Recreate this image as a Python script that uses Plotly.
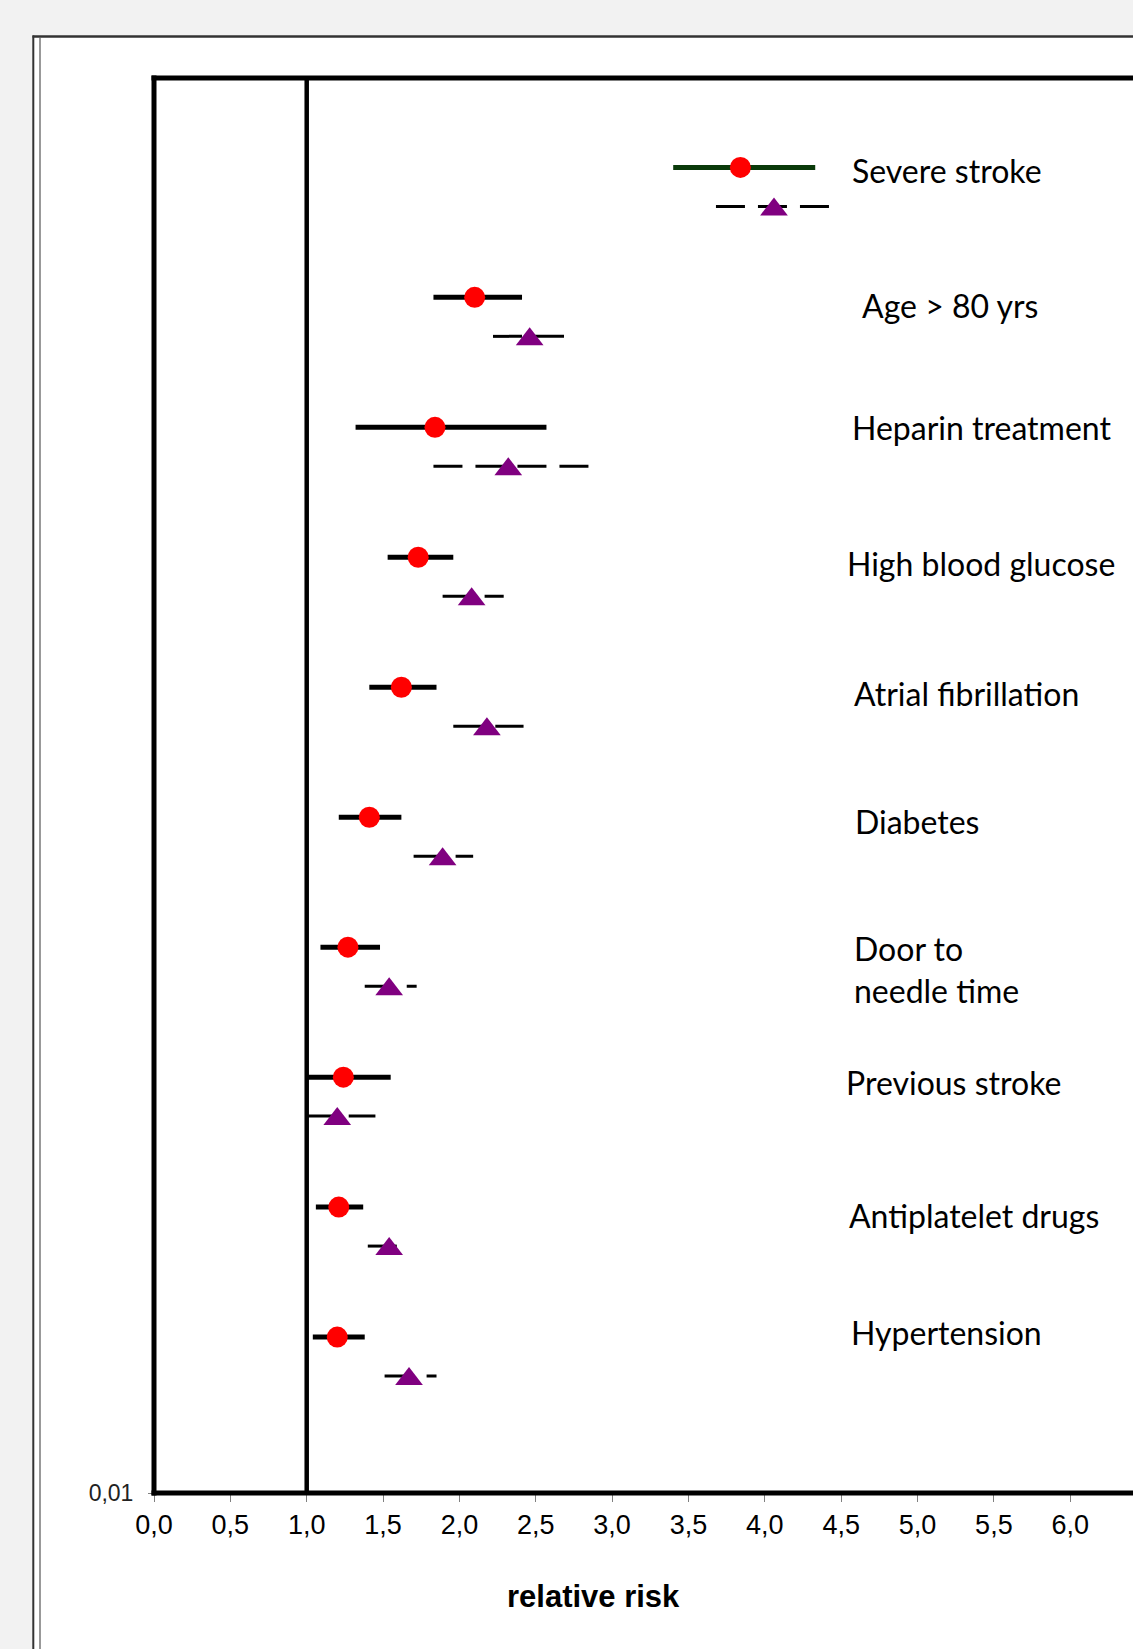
import plotly.graph_objects as go

# ---------------- data ----------------
categories = ["Severe stroke", "Age > 80 yrs", "Heparin treatment", "High blood glucose",
              "Atrial fibrillation", "Diabetes", "Door to<br>needle time", "Previous stroke",
              "Antiplatelet drugs", "Hypertension"]

# series 1 (red circles, solid CI)
rr1 = [3.84, 2.10, 1.84, 1.73, 1.62, 1.41, 1.27, 1.24, 1.21, 1.20]
lo1 = [3.40, 1.83, 1.32, 1.53, 1.41, 1.21, 1.09, 1.00, 1.06, 1.04]
hi1 = [4.33, 2.41, 2.57, 1.96, 1.85, 1.62, 1.48, 1.55, 1.37, 1.38]

# series 2 (purple triangles, dashed CI)
rr2 = [4.06, 2.46, 2.32, 2.08, 2.18, 1.89, 1.54, 1.20, 1.54, 1.67]
lo2 = [3.68, 2.22, 1.83, 1.89, 1.96, 1.70, 1.38, 1.00, 1.40, 1.51]
hi2 = [4.42, 2.69, 2.85, 2.29, 2.42, 2.09, 1.72, 1.45, 1.59, 1.85]

x_tickvals = [0, 0.5, 1, 1.5, 2, 2.5, 3, 3.5, 4, 4.5, 5, 5.5, 6]
x_ticktext = ["0,0", "0,5", "1,0", "1,5", "2,0", "2,5", "3,0", "3,5", "4,0", "4,5", "5,0", "5,5", "6,0"]
y_ticktext = ["0,01"]
x_title = "relative risk"

# ---------------- layout helpers ----------------
W, H = 1133, 1649
L, T, B = 154, 77.5, 1493          # plot area in pixels
PW, PH = W - L, B - T
XMAX = 6.411
YMAX = 10.888
n = len(categories)
ypos = [1.2 + (n - 1 - i) for i in range(n)]
tri_off = 0.30
tri_marker_shift = 0.023

label_dx = [0.0, 0.065, 0.0, -0.033, 0.013, 0.019, 0.013, -0.039, -0.02, -0.007]
label_dy = [-0.023, -0.062, 0.0, -0.046, -0.046, -0.031, -0.169, -0.038, -0.062, 0.038]
label_x = 4.558

def px(xp):
    return (xp - L) / PW

def py(yp):
    return (B - yp) / PH

fig = go.Figure()

for i in range(n):
    col = "#0a3a0a" if i == 0 else "black"
    fig.add_trace(go.Scatter(x=[lo1[i], hi1[i]], y=[ypos[i], ypos[i]], mode="lines",
                             line=dict(color=col, width=5), hoverinfo="skip", showlegend=False))
    fig.add_trace(go.Scatter(x=[lo2[i], hi2[i]], y=[ypos[i] - tri_off] * 2, mode="lines",
                             line=dict(color="black", width=3, dash="29px,13px"),
                             hoverinfo="skip", showlegend=False))

fig.add_trace(go.Scatter(x=rr1, y=ypos, mode="markers",
                         marker=dict(symbol="circle", size=21, color="#ff0000", line=dict(width=0)),
                         showlegend=False))
fig.add_trace(go.Scatter(x=rr2, y=[y - tri_off - tri_marker_shift for y in ypos], mode="markers",
                         marker=dict(symbol="triangle-up", size=24, color="#800080", line=dict(width=0)),
                         showlegend=False))

annotations = []
for i, c in enumerate(categories):
    annotations.append(dict(x=label_x + label_dx[i], y=ypos[i] + label_dy[i], xref="x", yref="y",
                            text=c, showarrow=False, xanchor="left", yanchor="middle", align="left",
                            font=dict(family="Lato, Open Sans, sans-serif", size=32, color="black")))
annotations.append(dict(x=px(593), y=py(1597), xref="paper", yref="paper", text="<b>%s</b>" % x_title,
                        showarrow=False, xanchor="center", yanchor="middle",
                        font=dict(family="Liberation Sans, Arial, sans-serif", size=31, color="black")))

shapes = [
    # outer white frame
    dict(type="rect", xref="paper", yref="paper", x0=px(33), x1=px(1150), y0=py(1670), y1=py(35.5),
         fillcolor="white", line=dict(width=0), layer="below"),
    dict(type="line", xref="paper", yref="paper", x0=px(32.5), x1=px(1150), y0=py(36), y1=py(36),
         line=dict(color="#333333", width=2.5), layer="below"),
    dict(type="line", xref="paper", yref="paper", x0=px(33.3), x1=px(33.3), y0=py(1670), y1=py(35),
         line=dict(color="#333333", width=2), layer="below"),
    dict(type="line", xref="paper", yref="paper", x0=px(40), x1=px(40), y0=py(1670), y1=py(37),
         line=dict(color="#555555", width=1.2), layer="below"),
    # reference line at 1
    dict(type="line", xref="x", yref="paper", x0=1, x1=1, y0=0, y1=1,
         line=dict(color="black", width=4.5), layer="below"),
    # plot border
    dict(type="line", xref="paper", yref="paper", x0=0, x1=0, y0=py(B + 2.5), y1=py(T - 2.5),
         line=dict(color="black", width=5), layer="above"),
    dict(type="line", xref="paper", yref="paper", x0=px(L - 2.5), x1=1.01, y0=1, y1=1,
         line=dict(color="black", width=5), layer="above"),
    dict(type="line", xref="paper", yref="paper", x0=px(L - 2.5), x1=1.01, y0=0, y1=0,
         line=dict(color="black", width=5), layer="above"),
]

fig.update_layout(
    width=W, height=H, autosize=False,
    margin=dict(l=L, r=0, t=T, b=H - B, pad=0),
    paper_bgcolor="#f2f2f2", plot_bgcolor="white",
    xaxis=dict(range=[0, XMAX], tickmode="array", tickvals=x_tickvals, ticktext=x_ticktext,
               ticks="outside", ticklen=8, tickwidth=1, tickcolor="#808080",
               showgrid=False, zeroline=False, showline=False, ticklabelstandoff=0,
               tickfont=dict(family="Liberation Sans, Arial, sans-serif", size=27, color="black")),
    yaxis=dict(range=[0, YMAX], tickmode="array", tickvals=[0], ticktext=y_ticktext,
               ticks="outside", ticklen=5, tickwidth=1, tickcolor="#808080",
               showgrid=False, zeroline=False, showline=False, ticklabelstandoff=10,
               tickfont=dict(family="Liberation Sans, Arial, sans-serif", size=23, color="#222222")),
    annotations=annotations, shapes=shapes, showlegend=False,
)

fig.write_html(
    "out.html",
    config={"displayModeBar": False},
    post_script="document.body.style.margin='0px';document.body.style.background='#f2f2f2';"
                "document.documentElement.style.overflow='hidden';",
)
